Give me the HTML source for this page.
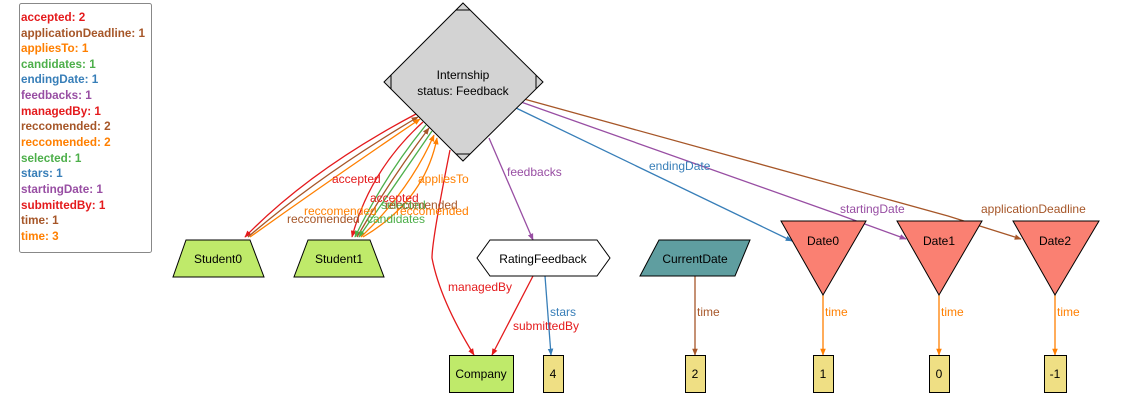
<!DOCTYPE html>
<html><head><meta charset="utf-8"><style>
html,body{margin:0;padding:0;background:#fff;width:1142px;height:416px;overflow:hidden}
svg{display:block;font-family:"Liberation Sans",Arial,sans-serif}
.lg{font-size:11.7px;font-weight:bold}
.el{font-size:12px}
.nl{font-size:12px;fill:#000}
</style></head><body>
<svg width="1142" height="416" viewBox="0 0 1142 416" xmlns="http://www.w3.org/2000/svg">
<defs>
<marker id="ar" viewBox="0 0 10 10" refX="9" refY="5" markerWidth="7" markerHeight="7" orient="auto-start-reverse" markerUnits="userSpaceOnUse"><path d="M0,1 L10,5 L0,9 z" fill="context-stroke"/></marker>
</defs>
<rect x="19.5" y="3.5" width="132" height="249" rx="2" fill="#fff" stroke="#888"/>
<g class="lg">
<text x="21" y="21" fill="#e41a1c">accepted: 2</text>
<text x="21" y="37" fill="#a65628">applicationDeadline: 1</text>
<text x="21" y="52" fill="#ff7f00">appliesTo: 1</text>
<text x="21" y="68" fill="#4daf4a">candidates: 1</text>
<text x="21" y="83" fill="#377eb8">endingDate: 1</text>
<text x="21" y="99" fill="#984ea3">feedbacks: 1</text>
<text x="21" y="115" fill="#e41a1c">managedBy: 1</text>
<text x="21" y="130" fill="#a65628">reccomended: 2</text>
<text x="21" y="146" fill="#ff7f00">reccomended: 2</text>
<text x="21" y="162" fill="#4daf4a">selected: 1</text>
<text x="21" y="177" fill="#377eb8">stars: 1</text>
<text x="21" y="193" fill="#984ea3">startingDate: 1</text>
<text x="21" y="209" fill="#e41a1c">submittedBy: 1</text>
<text x="21" y="224" fill="#a65628">time: 1</text>
<text x="21" y="240" fill="#ff7f00">time: 3</text>
</g>

<g fill="none" stroke-width="1.3">
<path d="M416,114 Q310,170 245,237" stroke="#e41a1c" marker-end="url(#ar)"/>
<path d="M418,117 Q320,175 248,237" stroke="#a65628" marker-start="url(#ar)"/>
<path d="M420,119 Q330,180 250,237" stroke="#ff7f00" marker-start="url(#ar)"/>
<path d="M423,122 Q370,170 352,237" stroke="#e41a1c" marker-end="url(#ar)"/>
<path d="M426,125 Q385,175 355,237" stroke="#4daf4a" marker-end="url(#ar)"/>
<path d="M429,128 Q390,180 357,237" stroke="#a65628" marker-start="url(#ar)"/>
<path d="M432,131 Q395,185 359,237" stroke="#4daf4a" marker-end="url(#ar)"/>
<path d="M434,135 Q410,190 361,237" stroke="#ff7f00" marker-start="url(#ar)"/>
<path d="M437,138 Q425,200 363,237" stroke="#ff7f00" marker-start="url(#ar)"/>
<path d="M450,150 Q432,240 432,258 Q440,300 474,355" stroke="#e41a1c" marker-end="url(#ar)"/>
<path d="M489,138 L533,240" stroke="#984ea3" marker-end="url(#ar)"/>
<path d="M524,99 L948,216 L1021,239" stroke="#a65628" marker-end="url(#ar)"/>
<path d="M521,102 L840,215 L906,239" stroke="#984ea3" marker-end="url(#ar)"/>
<path d="M516,108 L792,241" stroke="#377eb8" marker-end="url(#ar)"/>
<path d="M533,276 L492,355" stroke="#e41a1c" marker-end="url(#ar)"/>
<path d="M545,276 L551,355" stroke="#377eb8" marker-end="url(#ar)"/>
<path d="M695,276 L695,355" stroke="#a65628" marker-end="url(#ar)"/>
<path d="M823,295 L823,355" stroke="#ff7f00" marker-end="url(#ar)"/>
<path d="M939,295 L939,355" stroke="#ff7f00" marker-end="url(#ar)"/>
<path d="M1055,295 L1055,355" stroke="#ff7f00" marker-end="url(#ar)"/>
</g>

<g class="el">
<text x="332" y="183" fill="#e41a1c">accepted</text>
<text x="418" y="183" fill="#ff7f00">appliesTo</text>
<text x="370" y="202" fill="#e41a1c">accepted</text>
<text x="381" y="209" fill="#4daf4a">selected</text>
<text x="385" y="209" fill="#a65628">reccomended</text>
<text x="304" y="215" fill="#ff7f00">reccomended</text>
<text x="396" y="215" fill="#ff7f00">reccomended</text>
<text x="287" y="223" fill="#a65628">reccomended</text>
<text x="367" y="223" fill="#4daf4a">candidates</text>
<text x="507" y="176" fill="#984ea3">feedbacks</text>
<text x="649" y="170" fill="#377eb8">endingDate</text>
<text x="840" y="213" fill="#984ea3">startingDate</text>
<text x="981" y="213" fill="#a65628">applicationDeadline</text>
<text x="448" y="291" fill="#e41a1c">managedBy</text>
<text x="550" y="316" fill="#377eb8">stars</text>
<text x="513" y="330" fill="#e41a1c">submittedBy</text>
<text x="697" y="316" fill="#a65628">time</text>
<text x="825" y="316" fill="#ff7f00">time</text>
<text x="941" y="316" fill="#ff7f00">time</text>
<text x="1057" y="316" fill="#ff7f00">time</text>
</g>

<g stroke="#000" stroke-width="1">
<polygon points="463,3 543,82 463,161 384,82" fill="#d3d3d3"/>
<path d="M456,10 L470,10 M536,75 L536,89 M456,154 L470,154 M391,75 L391,89" fill="none"/>
<polygon points="186,240 250,240 264,277 173,277" fill="#bfea6a"/>
<polygon points="308,240 370,240 384,277 294,277" fill="#bfea6a"/>
<polygon points="490,240 597,240 610,258 597,276 490,276 477,258" fill="#fff"/>
<polygon points="659,240 750,240 735,276 640,276" fill="#5f9ea0"/>
<polygon points="781,221 866,221 823,295" fill="#fa8072"/>
<polygon points="897,221 982,221 939,295" fill="#fa8072"/>
<polygon points="1013,221 1099,221 1055,295" fill="#fa8072"/>
<rect x="449.5" y="355.5" width="64" height="37" fill="#bfea6a"/>
<rect x="543.5" y="355.5" width="20" height="37" fill="#efdf84"/>
<rect x="685.5" y="355.5" width="20" height="37" fill="#efdf84"/>
<rect x="813.5" y="355.5" width="20" height="37" fill="#efdf84"/>
<rect x="929.5" y="355.5" width="20" height="37" fill="#efdf84"/>
<rect x="1044.5" y="355.5" width="22" height="37" fill="#efdf84"/>
</g>
<g class="nl" text-anchor="middle">
<text x="463" y="79">Internship</text>
<text x="463" y="95">status: Feedback</text>
<text x="218" y="263">Student0</text>
<text x="339" y="263">Student1</text>
<text x="543" y="263">RatingFeedback</text>
<text x="695" y="263">CurrentDate</text>
<text x="823" y="245">Date0</text>
<text x="939" y="245">Date1</text>
<text x="1055" y="245">Date2</text>
<text x="481" y="378">Company</text>
<text x="553" y="378">4</text>
<text x="695" y="378">2</text>
<text x="823" y="378">1</text>
<text x="939" y="378">0</text>
<text x="1055" y="378">-1</text>
</g>
</svg>
</body></html>
